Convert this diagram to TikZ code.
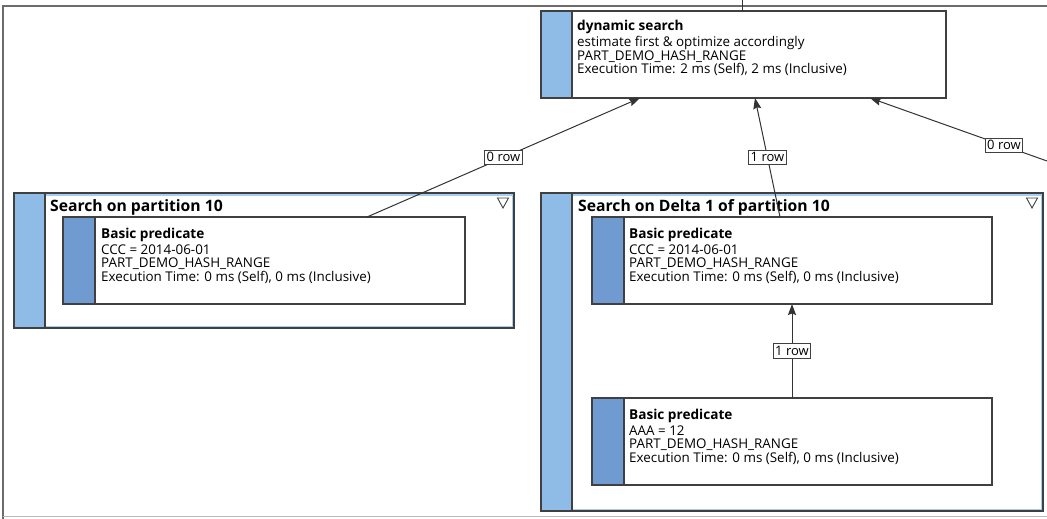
\documentclass[tikz,border=0pt]{standalone}
\usepackage{fontspec}
\setmainfont{Open Sans}
\usetikzlibrary{arrows.meta}
\definecolor{barlight}{HTML}{8FBCE6}
\definecolor{bardark}{HTML}{6F9BD0}
\definecolor{inline}{HTML}{A9CDEE}
\definecolor{edgec}{HTML}{333333}
\definecolor{boxc}{HTML}{404040}
\tikzset{
  opbox/.style={draw=boxc, line width=1.2pt, fill=white, outer sep=0pt, inner sep=0pt,
    anchor=north west, minimum width=#1, minimum height=87pt},
  barlt/.style={path picture={
      \fill[barlight] (path picture bounding box.north west) rectangle ([xshift=31pt]path picture bounding box.south west);
      \draw[boxc, line width=1.2pt] ([xshift=31pt]path picture bounding box.north west) -- ([xshift=31pt]path picture bounding box.south west);}},
  bardk/.style={path picture={
      \fill[bardark] (path picture bounding box.north west) rectangle ([xshift=32pt]path picture bounding box.south west);
      \draw[boxc, line width=1.2pt] ([xshift=32pt]path picture bounding box.north west) -- ([xshift=32pt]path picture bounding box.south west);}},
  grpbox/.style={draw=boxc, line width=1.3pt, fill=white, outer sep=0pt, inner sep=0pt, anchor=north west,
    path picture={
      \draw[inline, line width=2pt] ([shift={(1.5pt,-1.5pt)}]path picture bounding box.north west) rectangle ([shift={(-1.5pt,1.5pt)}]path picture bounding box.south east);
      \fill[barlight] (path picture bounding box.north west) rectangle ([xshift=31pt]path picture bounding box.south west);
      \draw[boxc, line width=1.2pt] ([xshift=31pt]path picture bounding box.north west) -- ([xshift=31pt]path picture bounding box.south west);}},
  ttl/.style={anchor=base west, inner sep=0pt, font=\fontsize{13.6}{15}\selectfont\bfseries},
  gttl/.style={anchor=base west, inner sep=0pt, font=\fontsize{15.7}{17}\selectfont\bfseries},
  body/.style={anchor=base west, inner sep=0pt, font=\fontsize{13.4}{14}\selectfont},
  conn/.style={draw=edgec, line width=1pt, -{Stealth[length=11pt,width=8pt,inset=1.5pt]}},
  plain/.style={draw=edgec, line width=1pt},
  lbl/.style={draw=boxc, fill=white, line width=0.8pt, inner xsep=2pt, inner ysep=1.5pt,
    text height=9.8pt, text depth=1.5pt, font=\fontsize{13}{14}\selectfont},
  tri/.style={draw=boxc, line width=0.9pt, line join=miter}
}
\begin{document}
\begin{tikzpicture}[x=1pt,y=-1pt]
\useasboundingbox (0,0) rectangle (1047,519);
% frame
\draw[gray!85!black, line width=2pt] (3,519) -- (3,6) -- (1047,6);
\draw[gray!55, line width=1pt] (3,516) -- (1047,516);

% top node
\node[opbox=405pt, barlt] (dyn) at (541,11) {};
\node[ttl] (dynt) at (577,31) {dynamic search};
\node[body] (dyn1) at (577,47) {estimate first \& optimize accordingly};
\node[body] (dyn2) at (577,60.5) {PART\_DEMO\_HASH\_RANGE};
\node[body] (dyn3) at (577,74) {Execution Time: 2 ms (Self), 2 ms (Inclusive)};
\coordinate (topend) at (742,0);
\draw[plain] ([xshift=201pt]dyn.north west) -- (topend);

% left group
\node[grpbox, minimum width=500pt, minimum height=135pt] (g1) at (14,193) {};
\node[gttl] (g1t) at (50,211.5) {Search on partition 10};
\draw[tri] ([shift={(-16.5pt,-5pt)}]g1.north east) -- ++(11pt,0pt) -- ++(-5.5pt,-10pt) -- cycle;
\node[opbox=402pt, bardk] (p1) at (63,217) {};
\node[ttl] (p1t) at (101,238) {Basic predicate};
\node[body] (p1a) at (101,254) {CCC = 2014-06-01};
\node[body] (p1b) at (101,267.5) {PART\_DEMO\_HASH\_RANGE};
\node[body] (p1c) at (101,281) {Execution Time: 0 ms (Self), 0 ms (Inclusive)};

% right group
\node[grpbox, minimum width=502pt, minimum height=318pt] (g2) at (541,193) {};
\node[gttl] (g2t) at (578,211.5) {Search on Delta 1 of partition 10};
\draw[tri] ([shift={(-16.5pt,-5pt)}]g2.north east) -- ++(11pt,0pt) -- ++(-5.5pt,-10pt) -- cycle;
\node[opbox=400pt, bardk] (p2) at (592,217) {};
\node[ttl] (p2t) at (629,238) {Basic predicate};
\node[body] (p2a) at (629,254) {CCC = 2014-06-01};
\node[body] (p2b) at (629,267.5) {PART\_DEMO\_HASH\_RANGE};
\node[body] (p2c) at (629,281) {Execution Time: 0 ms (Self), 0 ms (Inclusive)};
\node[opbox=400pt, bardk] (p3) at (592,398) {};
\node[ttl] (p3t) at (629,419) {Basic predicate};
\node[body] (p3a) at (629,435) {AAA = 12};
\node[body] (p3b) at (629,448.5) {PART\_DEMO\_HASH\_RANGE};
\node[body] (p3c) at (629,462) {Execution Time: 0 ms (Self), 0 ms (Inclusive)};

% connectors
\draw[conn] ([xshift=304pt]p1.north west) -- node[lbl, pos=0.5] (l1) {0 row} ([xshift=99pt]dyn.south west);
\draw[conn] ([xshift=188pt]p2.north west) -- node[lbl, pos=0.5] (l2) {1 row} ([xshift=214pt]dyn.south west);
\coordinate (rend) at (1047,161);
\draw[conn] (rend) -- node[lbl, pos=0.243] (l3) {0 row} ([xshift=329pt]dyn.south west);
\draw[conn] (p3.north) -- node[lbl, pos=0.5] (l4) {1 row} (p2.south);
\end{tikzpicture}
\end{document}
